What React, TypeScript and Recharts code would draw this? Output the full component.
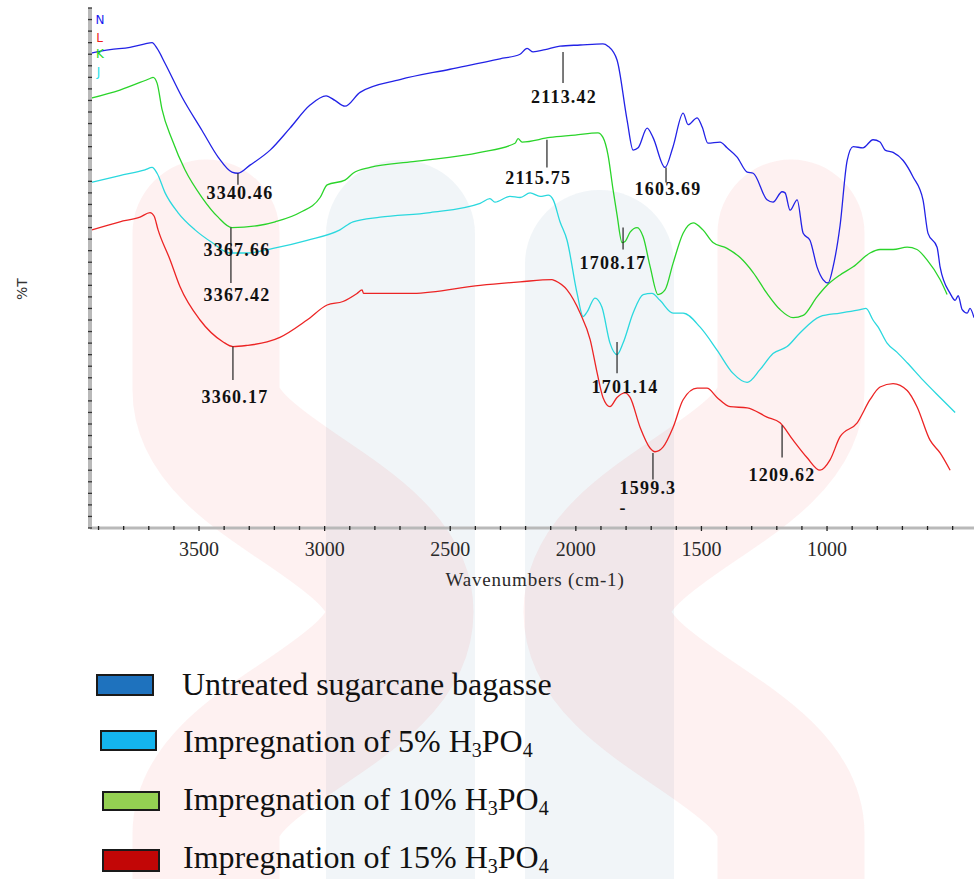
import React from 'react';
import { LineChart, Line, XAxis, YAxis, ReferenceLine, ReferenceDot } from 'recharts';

// FTIR spectra: [wavenumber (cm-1), %T]
const untreated: [number, number][] = [
  [3930, 41.1], [3854, 41.4], [3775, 41.6], [3715, 41.9], [3687, 42.0], [3667, 41.5], [3635, 40.2],
  [3568, 37.3], [3488, 34.4], [3424, 32.1], [3369, 30.8], [3345, 30.7], [3297, 31.4], [3217, 32.7],
  [3138, 34.6], [3058, 36.6], [2994, 37.4], [2959, 37.0], [2919, 36.5], [2859, 37.7], [2700, 38.8],
  [2501, 39.7], [2302, 40.6], [2222, 41.0], [2194, 41.5], [2170, 41.2], [2122, 41.4], [2063, 41.7],
  [1983, 41.8], [1892, 41.9], [1872, 41.7], [1836, 40.5], [1796, 35.3], [1772, 32.7], [1752, 32.9],
  [1716, 34.6], [1693, 33.8], [1645, 31.2], [1613, 33.0], [1573, 35.9], [1553, 34.9], [1517, 35.5],
  [1497, 34.7], [1474, 33.3], [1426, 33.4], [1398, 32.9], [1358, 32.1], [1318, 30.8], [1294, 30.7],
  [1239, 28.4], [1215, 28.2], [1179, 29.1], [1167, 29.0], [1147, 27.5], [1119, 28.4], [1095, 25.5],
  [1068, 24.9], [1040, 22.6], [1016, 21.5], [996, 21.2], [976, 22.6], [948, 26.2], [920, 31.8],
  [896, 33.0], [857, 32.9], [817, 33.6], [789, 33.4], [769, 32.7], [737, 32.5], [697, 31.8],
  [658, 30.4], [618, 28.4], [598, 25.5], [562, 24.3], [550, 22.6], [510, 20.3], [490, 19.7],
  [478, 20.1], [462, 18.9], [442, 18.6], [431, 19.0], [415, 18.2],
];

const h3po4_5: [number, number][] = [
  [3930, 29.9], [3815, 30.5], [3715, 31.0], [3687, 31.2], [3667, 30.7], [3635, 29.0], [3584, 27.3],
  [3516, 25.8], [3448, 24.7], [3377, 23.8], [3309, 23.8], [3205, 24.2], [3070, 24.9], [2939, 25.8],
  [2887, 26.5], [2779, 26.9], [2580, 27.3], [2381, 28.1], [2342, 28.5], [2322, 28.2], [2262, 28.7],
  [2222, 28.6], [2182, 29.0], [2142, 28.7], [2110, 28.8], [2090, 28.4], [2063, 26.5], [2035, 24.9],
  [1995, 20.3], [1971, 18.3], [1955, 18.7], [1924, 19.9], [1896, 19.1], [1864, 16.0], [1836, 15.0],
  [1812, 16.0], [1772, 18.6], [1732, 20.2], [1697, 20.3], [1665, 19.7], [1613, 18.6], [1573, 18.6],
  [1506, 17.4], [1438, 15.4], [1375, 13.4], [1318, 12.6], [1267, 13.7], [1215, 15.1], [1159, 15.7],
  [1107, 16.9], [1028, 18.3], [948, 18.6], [868, 18.9], [845, 19.0], [817, 18.0], [797, 17.4],
  [761, 16.0], [721, 15.2], [681, 14.3], [618, 12.8], [550, 11.3], [490, 10.0],
];

const h3po4_10: [number, number][] = [
  [3930, 37.2], [3815, 37.9], [3695, 38.9], [3683, 39.0], [3667, 38.5], [3647, 36.2], [3607, 33.6],
  [3556, 31.0], [3488, 28.6], [3424, 26.9], [3369, 26.0], [3257, 26.2], [3197, 26.5], [3098, 27.3],
  [3018, 28.6], [2990, 29.7], [2919, 30.1], [2887, 30.7], [2819, 31.2], [2648, 31.7], [2381, 32.5],
  [2242, 33.3], [2230, 33.7], [2214, 33.4], [2103, 33.8], [2003, 34.0], [1912, 34.2], [1892, 33.8],
  [1872, 32.3], [1852, 29.3], [1836, 27.1], [1816, 24.7], [1804, 24.8], [1784, 25.6], [1756, 26.0],
  [1732, 25.2], [1704, 22.6], [1673, 20.2], [1645, 20.6], [1613, 22.9], [1573, 25.5], [1533, 26.4],
  [1494, 25.8], [1454, 24.7], [1398, 24.2], [1346, 23.4], [1294, 22.1], [1239, 20.3], [1187, 18.9],
  [1135, 18.2], [1095, 18.4], [1040, 20.0], [1000, 21.0], [948, 21.9], [896, 22.6], [829, 23.8],
  [789, 24.1], [737, 24.1], [681, 24.3], [642, 24.1], [602, 23.2], [550, 21.5], [522, 20.2],
];

const h3po4_15: [number, number][] = [
  [3926, 25.8], [3815, 26.5], [3735, 26.9], [3695, 27.3], [3679, 27.0], [3663, 25.8], [3615, 23.2],
  [3576, 20.9], [3496, 18.0], [3404, 16.1], [3365, 15.7], [3309, 15.8], [3229, 16.1], [3178, 16.5],
  [3070, 18.0], [2990, 19.3], [2927, 19.6], [2871, 20.3], [2851, 20.6], [2845, 20.3], [2648, 20.3],
  [2381, 21.0], [2222, 21.3], [2095, 21.5], [2083, 21.4], [2035, 20.6], [1983, 18.6], [1943, 16.3],
  [1915, 13.4], [1892, 11.3], [1864, 10.5], [1836, 11.3], [1804, 11.7], [1784, 11.3], [1744, 8.7],
  [1704, 6.9], [1685, 6.6], [1653, 7.0], [1613, 8.7], [1573, 11.1], [1517, 12.1], [1478, 12.1],
  [1438, 11.3], [1386, 10.5], [1318, 10.4], [1239, 9.6], [1187, 9.1], [1135, 7.6], [1080, 6.1],
  [1028, 5.0], [988, 5.9], [948, 7.9], [880, 9.1], [829, 11.1], [789, 12.2], [737, 12.5],
  [681, 11.9], [642, 10.5], [590, 7.6], [550, 6.5], [510, 5.0],
];

// peak annotations: label, tick wavenumber, tick from/to (%T), label position (wavenumber, %T)
const peakMarks = [
  { text: '2113.42', wn: 2051, from: 41.2, to: 38.5, lx: 2047, ly: 37.3 },
  { text: '1603.69', wn: 1641, from: 31.2, to: 29.9, lx: 1633, ly: 29.3 },
  { text: '2115.75', wn: 2115, from: 33.6, to: 31.2, lx: 2150, ly: 30.3 },
  { text: '3340.46', wn: 3345, from: 30.7, to: 29.7, lx: 3337, ly: 29.0 },
  { text: '3367.66', wn: 3373, from: 26.0, to: 21.2, lx: 3349, ly: 24.1 },
  { text: '3367.42', wn: 3373, from: 21.2, to: 21.2, lx: 3349, ly: 20.2 },
  { text: '3360.17', wn: 3365, from: 15.7, to: 12.8, lx: 3357, ly: 11.3 },
  { text: '1708.17', wn: 1812, from: 26.0, to: 24.1, lx: 1852, ly: 22.9 },
  { text: '1701.14', wn: 1836, from: 16.1, to: 13.4, lx: 1804, ly: 12.2 },
  { text: '1599.3', wn: 1693, from: 6.5, to: 4.2, lx: 1713, ly: 3.5 },
  { text: '1209.62', wn: 1179, from: 8.9, to: 6.1, lx: 1179, ly: 4.6 },
  { text: '-', wn: 1812, from: 1.6, to: 1.6, lx: 1812, ly: 1.7 },
];

const seriesTags = [
  { tag: 'N', color: '#1a1af0', wn: 3894, t: 44.0 },
  { tag: 'L', color: '#f01a1a', wn: 3896, t: 42.4 },
  { tag: 'K', color: '#1ad81a', wn: 3894, t: 41.0 },
  { tag: 'J', color: '#1ae0e8', wn: 3900, t: 39.5 },
];

const legendItems = [
  { main: 'Untreated sugarcane bagasse', acid: false, fill: '#1e72be' },
  { main: 'Impregnation of 5% ', acid: true, fill: '#14b4ee' },
  { main: 'Impregnation of 10% ', acid: true, fill: '#94d052' },
  { main: 'Impregnation of 15% ', acid: true, fill: '#c20606' },
];

const majorTicks = [3500, 3000, 2500, 2000, 1500, 1000];
const xTicks: number[] = [];
for (let v = 3900; v >= 500; v -= 100) xTicks.push(v);
const yTicks: number[] = [];
for (let v = 0; v <= 45; v += 1) yTicks.push(v);

const toRows = (arr: [number, number][]) => arr.map(([x, t]) => ({ x, t }));

const series = [
  { name: 'Untreated sugarcane bagasse', data: toRows(untreated), color: '#2222e6' },
  { name: 'Impregnation of 10% H3PO4', data: toRows(h3po4_10), color: '#2ad42a' },
  { name: 'Impregnation of 5% H3PO4', data: toRows(h3po4_5), color: '#2ad8de' },
  { name: 'Impregnation of 15% H3PO4', data: toRows(h3po4_15), color: '#ec2424' },
];

const XTick = (props: any) => {
  const { x, y, payload } = props;
  const major = majorTicks.includes(payload.value);
  return (
    <g>
      <line x1={x} x2={x} y1={y - 2} y2={y + (major ? 3 : 2)} stroke="#222" strokeWidth={1.3} />
      {major && (
        <text x={x} y={y + 28} textAnchor="middle" fontFamily="'Liberation Serif', serif" fontSize={20} fill="#2a2a2a">
          {payload.value}
        </text>
      )}
    </g>
  );
};

const YTick = (props: any) => {
  const { x, y } = props;
  return <line x1={x - 2} x2={x + 2} y1={y} y2={y} stroke="#333" strokeWidth={1.3} />;
};

const Watermark = () => (
  <svg width={974} height={879} style={{ position: 'absolute', left: 0, top: 0 }}>
    <rect x={326} y={160} width={149} height={800} rx={74} fill="rgb(60,110,160)" fillOpacity={0.07} />
    <rect x={525} y={190} width={149} height={800} rx={74} fill="rgb(60,110,160)" fillOpacity={0.07} />
    <path d="M206,233 L206,390 C206,480 400,520 400,612 C400,704 206,744 206,834 L206,1000" stroke="rgb(235,60,60)" strokeOpacity={0.07} strokeWidth={147} fill="none" strokeLinecap="round" />
    <path d="M791,233 L791,390 C791,480 597,520 597,612 C597,704 791,744 791,834 L791,1000" stroke="rgb(235,60,60)" strokeOpacity={0.07} strokeWidth={147} fill="none" strokeLinecap="round" />
  </svg>
);

const legendBoxes = [
  { x: 97, y: 675, w: 56, h: 20 },
  { x: 101, y: 731, w: 55, h: 19 },
  { x: 103, y: 792, w: 56, h: 18 },
  { x: 103, y: 850, w: 56, h: 21 },
];
const legendBaselines = [695, 752, 810, 868];

const LegendBlock = () => (
  <svg width={974} height={879} style={{ position: 'absolute', left: 0, top: 0 }}>
    {legendItems.map((item, i) => (
      <g key={item.main}>
        <rect x={legendBoxes[i].x} y={legendBoxes[i].y} width={legendBoxes[i].w} height={legendBoxes[i].h} fill={item.fill} stroke="#1a1a1a" strokeWidth={2} />
        <text x={i === 0 ? 182 : 183} y={legendBaselines[i]} fontFamily="'Liberation Serif', serif" fontSize={32} fill="#111">
          {item.main}
          {item.acid && (
            <>
              <tspan>H</tspan>
              <tspan fontSize={20} dy={5}>3</tspan>
              <tspan dy={-5}>PO</tspan>
              <tspan fontSize={20} dy={5}>4</tspan>
            </>
          )}
        </text>
      </g>
    ))}
  </svg>
);

export default function App() {
  return (
    <div style={{ position: 'absolute', left: 0, top: 0, width: 974, height: 879, background: '#fff', overflow: 'hidden' }}>
      <Watermark />
      <div style={{ position: 'absolute', left: 0, top: 0 }}>
        <LineChart width={974} height={600} margin={{ top: 8, right: 0, left: 89, bottom: 12 }}>
          <XAxis
            type="number"
            dataKey="x"
            domain={[415, 3934]}
            reversed
            allowDataOverflow
            ticks={xTicks}
            interval={0}
            tickSize={0}
            tickMargin={0}
            tickLine={false}
            axisLine={{ stroke: '#b9b9b9', strokeWidth: 3 }}
            height={60}
            tick={<XTick />}
            label={{
              content: (p: any) => {
                const vb = p.viewBox || { x: 90, y: 528, width: 884 };
                return (
                  <text x={vb.x + vb.width / 2 + 3} y={vb.y + 58} textAnchor="middle" fontFamily="'Liberation Serif', serif" fontSize={19} letterSpacing={0.8} fill="#2a2a2a">
                    Wavenumbers (cm-1)
                  </text>
                );
              },
            }}
          />
          <YAxis
            type="number"
            domain={[0, 45]}
            allowDataOverflow
            ticks={yTicks}
            interval={0}
            width={1}
            tickSize={0}
            tickMargin={0}
            tickLine={false}
            axisLine={{ stroke: '#b9b9b9', strokeWidth: 4 }}
            tick={<YTick />}
            label={{
              content: (p: any) => {
                const vb = p.viewBox || { x: 89, y: 8, height: 520 };
                const cx = vb.x - 67;
                const cy = 289;
                return (
                  <text x={cx} y={cy} textAnchor="middle" dominantBaseline="central" transform={`rotate(-90 ${cx} ${cy})`} fontFamily="'DejaVu Sans', sans-serif" fontSize={14} fill="#333">
                    %T
                  </text>
                );
              },
            }}
          />
          {series.map((s) => (
            <Line
              key={s.name}
              data={s.data}
              dataKey="t"
              name={s.name}
              type="monotoneX"
              stroke={s.color}
              strokeWidth={1.3}
              dot={false}
              activeDot={false}
              isAnimationActive={false}
            />
          ))}
          {peakMarks.filter((m) => m.from !== m.to).map((m) => (
            <ReferenceLine
              key={'l' + m.text}
              segment={[{ x: m.wn, y: m.from }, { x: m.wn, y: m.to }]}
              stroke="#222"
              strokeWidth={1.2}
              ifOverflow="visible"
            />
          ))}
          {peakMarks.map((m) => (
            <ReferenceDot
              key={'t' + m.text}
              x={m.lx}
              y={m.ly}
              r={0}
              ifOverflow="visible"
              shape={(p: any) => (
                <text x={p.cx} y={p.cy} textAnchor="middle" dominantBaseline="central" fontFamily="'Liberation Serif', serif" fontWeight="bold" fontSize={18} letterSpacing={1.2} fill="#111">
                  {m.text}
                </text>
              )}
            />
          ))}
          {seriesTags.map((s) => (
            <ReferenceDot
              key={'g' + s.tag}
              x={s.wn}
              y={s.t}
              r={0}
              ifOverflow="visible"
              shape={(p: any) => (
                <text x={p.cx} y={p.cy} textAnchor="middle" dominantBaseline="central" fontFamily="'DejaVu Sans', sans-serif" fontSize={12} fill={s.color}>
                  {s.tag}
                </text>
              )}
            />
          ))}
        </LineChart>
      </div>
      <LegendBlock />
    </div>
  );
}
